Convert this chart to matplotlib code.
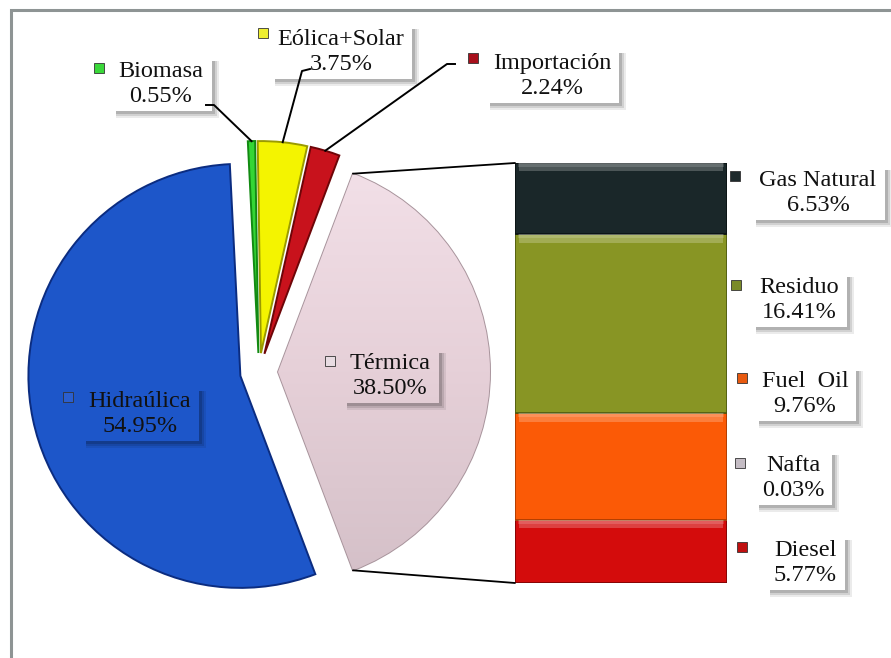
import numpy as np
import matplotlib
matplotlib.use("Agg")
import matplotlib.pyplot as plt
from matplotlib.patches import Rectangle, Polygon, ConnectionPatch
from matplotlib.colors import LinearSegmentedColormap

# main pie: generation by source (%)
pie_names = ["Térmica", "Importación", "Eólica+Solar", "Biomasa", "Hidraúlica"]
pie_values = [38.50, 2.24, 3.75, 0.55, 54.95]
pie_colors = ["#ecd6de", "#c8121c", "#f4f400", "#35d635", "#1d56c9"]
pie_edges = ["#a8949c", "#6e0508", "#9a9a00", "#128a12", "#0b2c80"]

# breakdown of thermal generation (%), bottom to top
bar_names = ["Diesel", "Nafta", "Fuel  Oil", "Residuo", "Gas Natural"]
bar_values = [5.77, 0.03, 9.76, 16.41, 6.53]
bar_colors = ["#d40c0c", "#d8c8d0", "#fb5a06", "#889524", "#1a2729"]
bar_edges = ["#7a0404", "#a09098", "#a83a00", "#4e5a10", "#0a1213"]

W, H = 891, 658
fig = plt.figure(figsize=(W / 100, H / 100), dpi=100)
ax = fig.add_axes([0, 0, 1, 1])
ax.set_xlim(0, W)
ax.set_ylim(0, H)
ax.axis("off")

serif = "Liberation Serif"
fs = 17.5

# pie geometry (pixels, y up)
cx, cy, R = 259, 286, 212
gap = 19  # explode distance in pixels
start = -pie_values[0] / 100 * 180

wedges, _ = ax.pie(pie_values, colors=pie_colors, startangle=start, counterclock=True,
                   explode=[gap] * len(pie_values), center=(cx, cy), radius=R,
                   wedgeprops=dict(linewidth=1.4), frame=True)
for w, ec in zip(wedges, pie_edges):
    w.set_edgecolor(ec)

# soft vertical shading on the thermal slice
th = wedges[0]
grad = LinearSegmentedColormap.from_list("term", ["#d2bec6", "#e6d0d8", "#f4e2ea"])
img = ax.imshow(np.linspace(0, 1, 256)[:, None], cmap=grad, origin="lower",
                extent=[cx, cx + R * 1.3, cy - R * 1.1, cy + R * 1.1], aspect="auto", zorder=1.5)
img.set_clip_path(th)
ax.set_xlim(0, W)
ax.set_ylim(0, H)
ax.set_aspect("auto")

# slice angles for leader lines and connector
bounds = start + np.concatenate([[0], np.cumsum(pie_values)]) / 100 * 360
mids = (bounds[:-1] + bounds[1:]) / 2


def slice_point(i, ang):
    m = np.radians(mids[i])
    ox, oy = cx + gap * np.cos(m), cy + gap * np.sin(m)
    a = np.radians(ang)
    return ox + R * np.cos(a), oy + R * np.sin(a)


# stacked bar for the thermal breakdown
bx = fig.add_axes([515 / W, 75 / H, 212 / W, 420 / H])
bottoms = np.concatenate([[0], np.cumsum(bar_values)[:-1]])
tops = bottoms + np.array(bar_values)
total = sum(bar_values)
bx.bar(0, bar_values, bottom=bottoms, width=1, color=bar_colors,
       edgecolor=bar_edges, linewidth=1.2)
# bevel highlight along the top of each block
hl = total * 0.02
shown = np.array(bar_values) > hl
bx.bar(0, hl, bottom=tops[shown] - hl, width=0.96, color="white", alpha=0.22, linewidth=0)
bx.bar(0, hl * 0.5, bottom=tops[shown] - hl * 0.5, width=0.97, color="white", alpha=0.15, linewidth=0)
bx.set_xlim(-0.5, 0.5)
bx.set_ylim(0, total)
bx.axis("off")

# connector lines from the thermal slice to the bar
p_top = slice_point(0, bounds[1])
p_bot = slice_point(0, bounds[0])
for p, yb in ((p_top, total), (p_bot, 0)):
    con = ConnectionPatch(xyA=p, coordsA=ax.transData, xyB=(-0.5, yb), coordsB=bx.transData,
                          color="black", linewidth=1.3)
    fig.add_artist(con)

# labels: (text, text centre, marker position, marker colour) in pixels from top-left
labels = [
    ("Hidraúlica\n54.95%", (140, 414), (68, 397), "#2a5fd0"),
    ("Térmica\n38.50%", (390, 376), (330, 361), "#e8dce2"),
    ("Biomasa\n0.55%", (161, 84), (99, 68), "#3ad83a"),
    ("Eólica+Solar\n3.75%", (341, 52), (263, 33), "#eeee30"),
    ("Importación\n2.24%", (552, 76), (473, 58), "#a8101c"),
    ("Gas Natural\n6.53%", (818, 193), (735, 176), "#1e2a2c"),
    ("Residuo\n16.41%", (799, 300), (736, 285), "#7a8a28"),
    ("Fuel  Oil\n9.76%", (805, 394), (742, 378), "#e85a10"),
    ("Nafta\n0.03%", (793, 478), (740, 463), "#c4bcc4"),
    ("Diesel\n5.77%", (805, 563), (742, 547), "#c01010"),
]
texts = []
for txt, (tx, ty), (mx, my), mc in labels:
    t = ax.text(tx, H - ty, txt, ha="center", va="center", fontsize=fs, family=serif,
                linespacing=1.25, color="#111111", zorder=6)
    texts.append(t)
    ax.plot(mx, H - my, marker="s", markersize=7, color=mc,
            markeredgecolor="#333333", markeredgewidth=0.6, zorder=6)

# leader lines for the small slices
leaders = [(3, [(206, 105), (214, 105)]), (2, [(310, 69), (302, 71)]), (1, [(455, 64), (447, 64)])]
for i, pts in leaders:
    tip = slice_point(i, mids[i])
    xs = [p[0] for p in pts] + [tip[0]]
    ys = [H - p[1] for p in pts] + [tip[1]]
    ax.plot(xs, ys, color="black", linewidth=1.4, zorder=4)

# drop shadow on the right and bottom of each label box
fig.canvas.draw()
rend = fig.canvas.get_renderer()
for t in texts:
    bb = t.get_window_extent(rend)
    x0, y0, x1, y1 = bb.x0 - 8, bb.y0 - 4, bb.x1 + 8, bb.y1 + 5
    for s, a in ((7, 0.08), (5, 0.11), (3, 0.15)):
        sh = Polygon([(x0 + 5, y0), (x1, y0), (x1, y1 - 5), (x1 + s, y1 - 5),
                      (x1 + s, y0 - s), (x0 + 5, y0 - s)],
                     closed=True, facecolor="black", edgecolor="none", alpha=a, zorder=5)
        ax.add_patch(sh)

# outer chart frame
ax.add_patch(Rectangle((11, -30), W + 30, H - 10 + 30, fill=False,
                       edgecolor="#8e9494", linewidth=2.2, zorder=7))

fig.savefig("out.png", dpi=100)
